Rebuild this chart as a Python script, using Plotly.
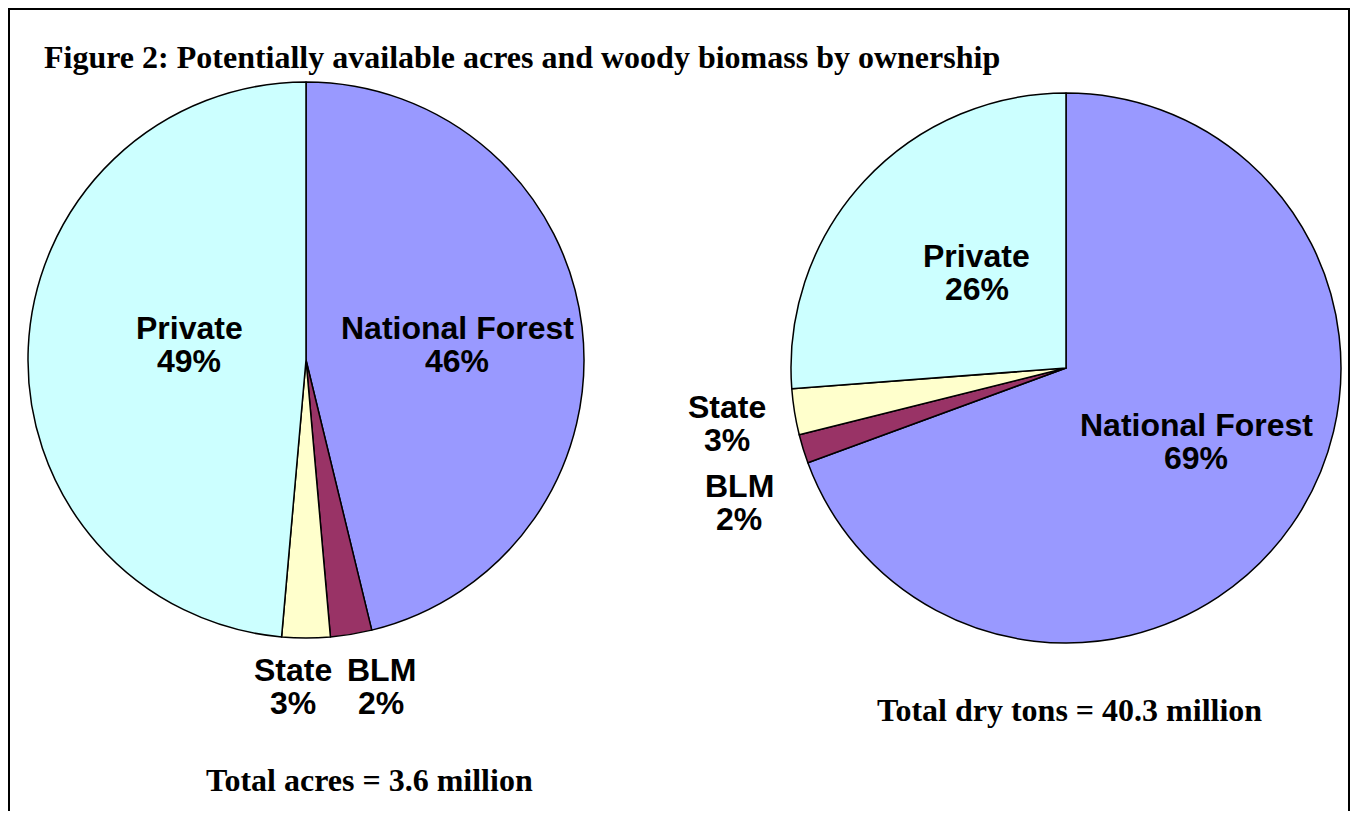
import plotly.graph_objects as go

W, H = 1358, 819
OFF = 8  # page body margin in the browser
FW, FH = W - 2 * OFF, H - 2 * OFF

owners = ["National Forest", "BLM", "State", "Private"]
colors = ["#9999FF", "#993366", "#FFFFCC", "#CCFFFF"]

acres_pct = [46.2, 2.4, 2.8, 48.6]
tons_pct = [69.4, 1.7, 2.7, 26.2]

title = "Figure 2: Potentially available acres and woody biomass by ownership"
acres_note = "Total acres = 3.6 million"
tons_note = "Total dry tons = 40.3 million"

# label centres (px) for each slice, name line then percent line
acres_lbl_xy = [(457, 328), (381, 670), (293, 670), (189, 328)]
tons_lbl_xy = [(1196, 425), (739, 486), (727, 407), (977, 256)]


def px(x, y):
    return (x - OFF) / FW, 1 - (y - OFF) / FH


fig = go.Figure()


def add_pie(vals, x0, y0, x1, y1):
    a = px(x0, y1)
    b = px(x1, y0)
    fig.add_trace(go.Pie(
        labels=owners, values=vals, sort=False, direction="clockwise",
        rotation=0, marker=dict(colors=colors, line=dict(color="black", width=1.5)),
        textinfo="none", hoverinfo="label+percent",
        domain=dict(x=[a[0], b[0]], y=[a[1], b[1]]), showlegend=False,
    ))


add_pie(acres_pct, 28, 82, 584, 638)
add_pie(tons_pct, 791, 93, 1341, 643)

lbl_font = dict(family="Liberation Sans, Arial", size=32, color="black")
annos = []
for vals, xy in [(acres_pct, acres_lbl_xy), (tons_pct, tons_lbl_xy)]:
    tot = sum(vals)
    for name, v, (x, y) in zip(owners, vals, xy):
        ax, ay = px(x, y)
        annos.append(dict(x=ax, y=ay, xref="paper", yref="paper", showarrow=False,
                          text="<b>%s</b>" % name, font=lbl_font,
                          xanchor="center", yanchor="middle"))
        ax, ay = px(x, y + 33)
        annos.append(dict(x=ax, y=ay, xref="paper", yref="paper", showarrow=False,
                          text="<b>%d%%</b>" % round(v / tot * 100), font=lbl_font,
                          xanchor="center", yanchor="middle"))

serif = dict(family="Liberation Serif, Times New Roman", size=32, color="black")
tx, ty = px(42, 57)
annos.append(dict(x=tx, y=ty, xref="paper", yref="paper", showarrow=False,
                  text="<b>%s</b>" % title, font=serif,
                  xanchor="left", yanchor="middle"))
tx, ty = px(369, 780)
annos.append(dict(x=tx, y=ty, xref="paper", yref="paper", showarrow=False,
                  text="<b>%s</b>" % acres_note, font=serif,
                  xanchor="center", yanchor="middle"))
tx, ty = px(1069, 710)
annos.append(dict(x=tx, y=ty, xref="paper", yref="paper", showarrow=False,
                  text="<b>%s</b>" % tons_note, font=serif,
                  xanchor="center", yanchor="middle"))

bx0, by1 = px(9, 9)
bx1, _ = px(1349, 9)
fig.update_layout(
    width=FW, height=FH, margin=dict(l=0, r=0, t=0, b=0),
    paper_bgcolor="white", plot_bgcolor="white",
    annotations=annos,
    shapes=[dict(type="rect", xref="paper", yref="paper",
                 x0=bx0, x1=bx1, y0=-0.02, y1=by1,
                 line=dict(color="black", width=2))],
)

fig.write_html("out.html")
